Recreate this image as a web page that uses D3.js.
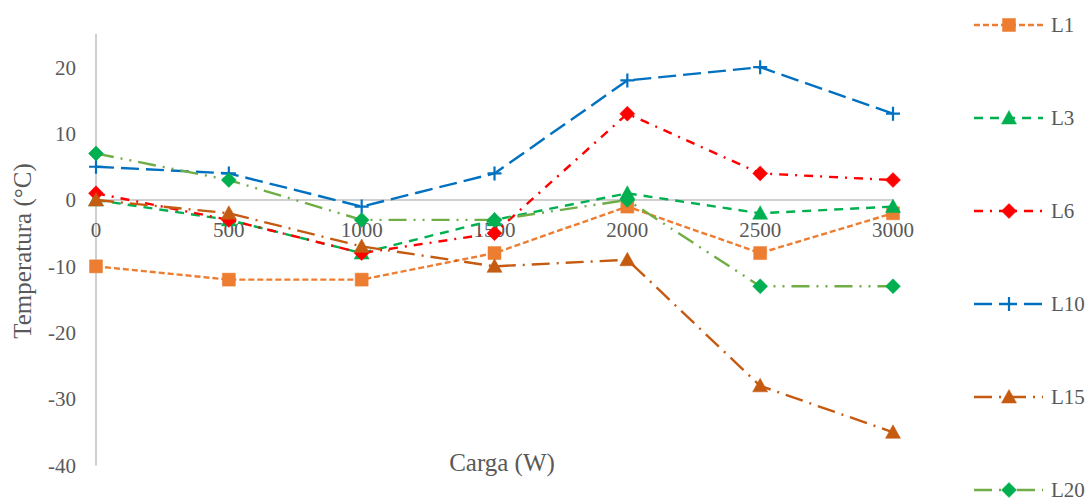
<!DOCTYPE html>
<html>
<head>
<meta charset="utf-8">
<script src="https://cdn.jsdelivr.net/npm/d3@7"></script>
<style>
  html, body { margin: 0; padding: 0; background: #fff; }
  svg { display: block; }
  text { font-family: "Liberation Serif", "Times New Roman", serif; fill: #595959; }
</style>
</head>
<body>
<svg id="chart" width="1091" height="501"></svg>
<script>
// Load (W) categories
const categories = [0, 500, 1000, 1500, 2000, 2500, 3000];

// Temperature per line (°C)
const L1  = [-10, -12, -12, -8, -1, -8, -2];
const L3  = [0, -3, -8, -3, 1, -2, -1];
const L6  = [1, -3, -8, -5, 13, 4, 3];
const L10 = [5, 4, -1, 4, 18, 20, 13];
const L15 = [0, -2, -7, -10, -9, -28, -35];
const L20 = [7, 3, -3, -3, 0, -13, -13];

const yTicks = [20, 10, 0, -10, -20, -30, -40];
const yDomain = [-40, 25];

const seriesNames = ["L1", "L3", "L6", "L10", "L15", "L20"];
const seriesValues = [L1, L3, L6, L10, L15, L20];

// Visual style per series
const styles = {
  L1:  { line: "#ED7D31", fill: "#ED7D31", dash: "6,3",                  marker: "square" },
  L3:  { line: "#00B050", fill: "#00B050", dash: "9,7",                  marker: "triangle" },
  L6:  { line: "#FF0000", fill: "#FF0000", dash: "9,7,2,7",              marker: "diamond" },
  L10: { line: "#0070C0", fill: "#0070C0", dash: "18,7",                 marker: "plus" },
  L15: { line: "#C55A11", fill: "#C55A11", dash: "18,7,2,7",             marker: "triangle" },
  L20: { line: "#70AD47", fill: "#00B050", dash: "18,7,2,7,2,7",         marker: "diamond" }
};

const svg = d3.select("#chart");

const x = d3.scalePoint().domain(categories).range([96, 893]);
const y = d3.scaleLinear().domain(yDomain).range([465.5, 34]);

// Vertical value axis line
svg.append("line")
  .attr("x1", 96).attr("x2", 96)
  .attr("y1", y(yDomain[1])).attr("y2", y(yDomain[0]))
  .attr("stroke", "#BFBFBF").attr("stroke-width", 1.5);

// Horizontal category axis at zero
svg.append("line")
  .attr("x1", x(categories[0])).attr("x2", x(categories[categories.length - 1]))
  .attr("y1", y(0)).attr("y2", y(0))
  .attr("stroke", "#BFBFBF").attr("stroke-width", 1.5);

// Value tick labels
svg.append("g").selectAll("text")
  .data(yTicks).join("text")
  .attr("x", 76)
  .attr("y", d => y(d))
  .attr("dy", "0.35em")
  .attr("text-anchor", "end")
  .attr("font-size", 21)
  .text(d => d);

// Category tick labels, just below the zero line
svg.append("g").selectAll("text")
  .data(categories).join("text")
  .attr("x", d => x(d))
  .attr("y", y(0) + 37)
  .attr("text-anchor", "middle")
  .attr("font-size", 21)
  .text(d => d);

// Axis titles
svg.append("text")
  .attr("x", 502).attr("y", 471)
  .attr("text-anchor", "middle")
  .attr("font-size", 25)
  .text("Carga (W)");

svg.append("text")
  .attr("transform", "translate(31,251) rotate(-90)")
  .attr("text-anchor", "middle")
  .attr("font-size", 25)
  .text("Temperatura (°C)");

// Marker shapes
function markerPath(kind) {
  switch (kind) {
    case "square":   return "M-6.5,-6.5H6.5V6.5H-6.5Z";
    case "triangle": return "M0,-7.5L7.5,6L-7.5,6Z";
    case "diamond":  return "M0,-7.5L7.5,0L0,7.5L-7.5,0Z";
    case "plus":     return "M-7,0H7M0,-7V7";
  }
}

function drawMarker(g, kind, st, cx, cy) {
  const p = g.append("path")
    .attr("d", markerPath(kind))
    .attr("transform", `translate(${cx},${cy})`);
  if (kind === "plus") {
    p.attr("fill", "none").attr("stroke", st.fill).attr("stroke-width", 2.2);
  } else {
    p.attr("fill", st.fill).attr("stroke", st.fill).attr("stroke-width", 0.5);
  }
}

const line = d3.line()
  .x((d, i) => x(categories[i]))
  .y(d => y(d));

const plot = svg.append("g");
seriesNames.forEach((name, si) => {
  const st = styles[name];
  const vals = seriesValues[si];
  const g = plot.append("g");
  g.append("path")
    .datum(vals)
    .attr("d", line)
    .attr("fill", "none")
    .attr("stroke", st.line)
    .attr("stroke-width", 2.4)
    .attr("stroke-dasharray", st.dash)
    .attr("stroke-linejoin", "round");
  vals.forEach((v, i) => drawMarker(g, st.marker, st, x(categories[i]), y(v)));
});

// Legend on the right
const legendY = d3.scalePoint().domain(seriesNames).range([25, 490]);
const legend = svg.append("g");
seriesNames.forEach(name => {
  const st = styles[name];
  const ly = legendY(name);
  const g = legend.append("g");
  g.append("line")
    .attr("x1", 974).attr("x2", 1043)
    .attr("y1", ly).attr("y2", ly)
    .attr("stroke", st.line)
    .attr("stroke-width", 2.4)
    .attr("stroke-dasharray", st.dash);
  drawMarker(g, st.marker, st, 1009, ly);
  g.append("text")
    .attr("x", 1051).attr("y", ly)
    .attr("dy", "0.35em")
    .attr("font-size", 21)
    .text(name);
});
</script>
</body>
</html>
